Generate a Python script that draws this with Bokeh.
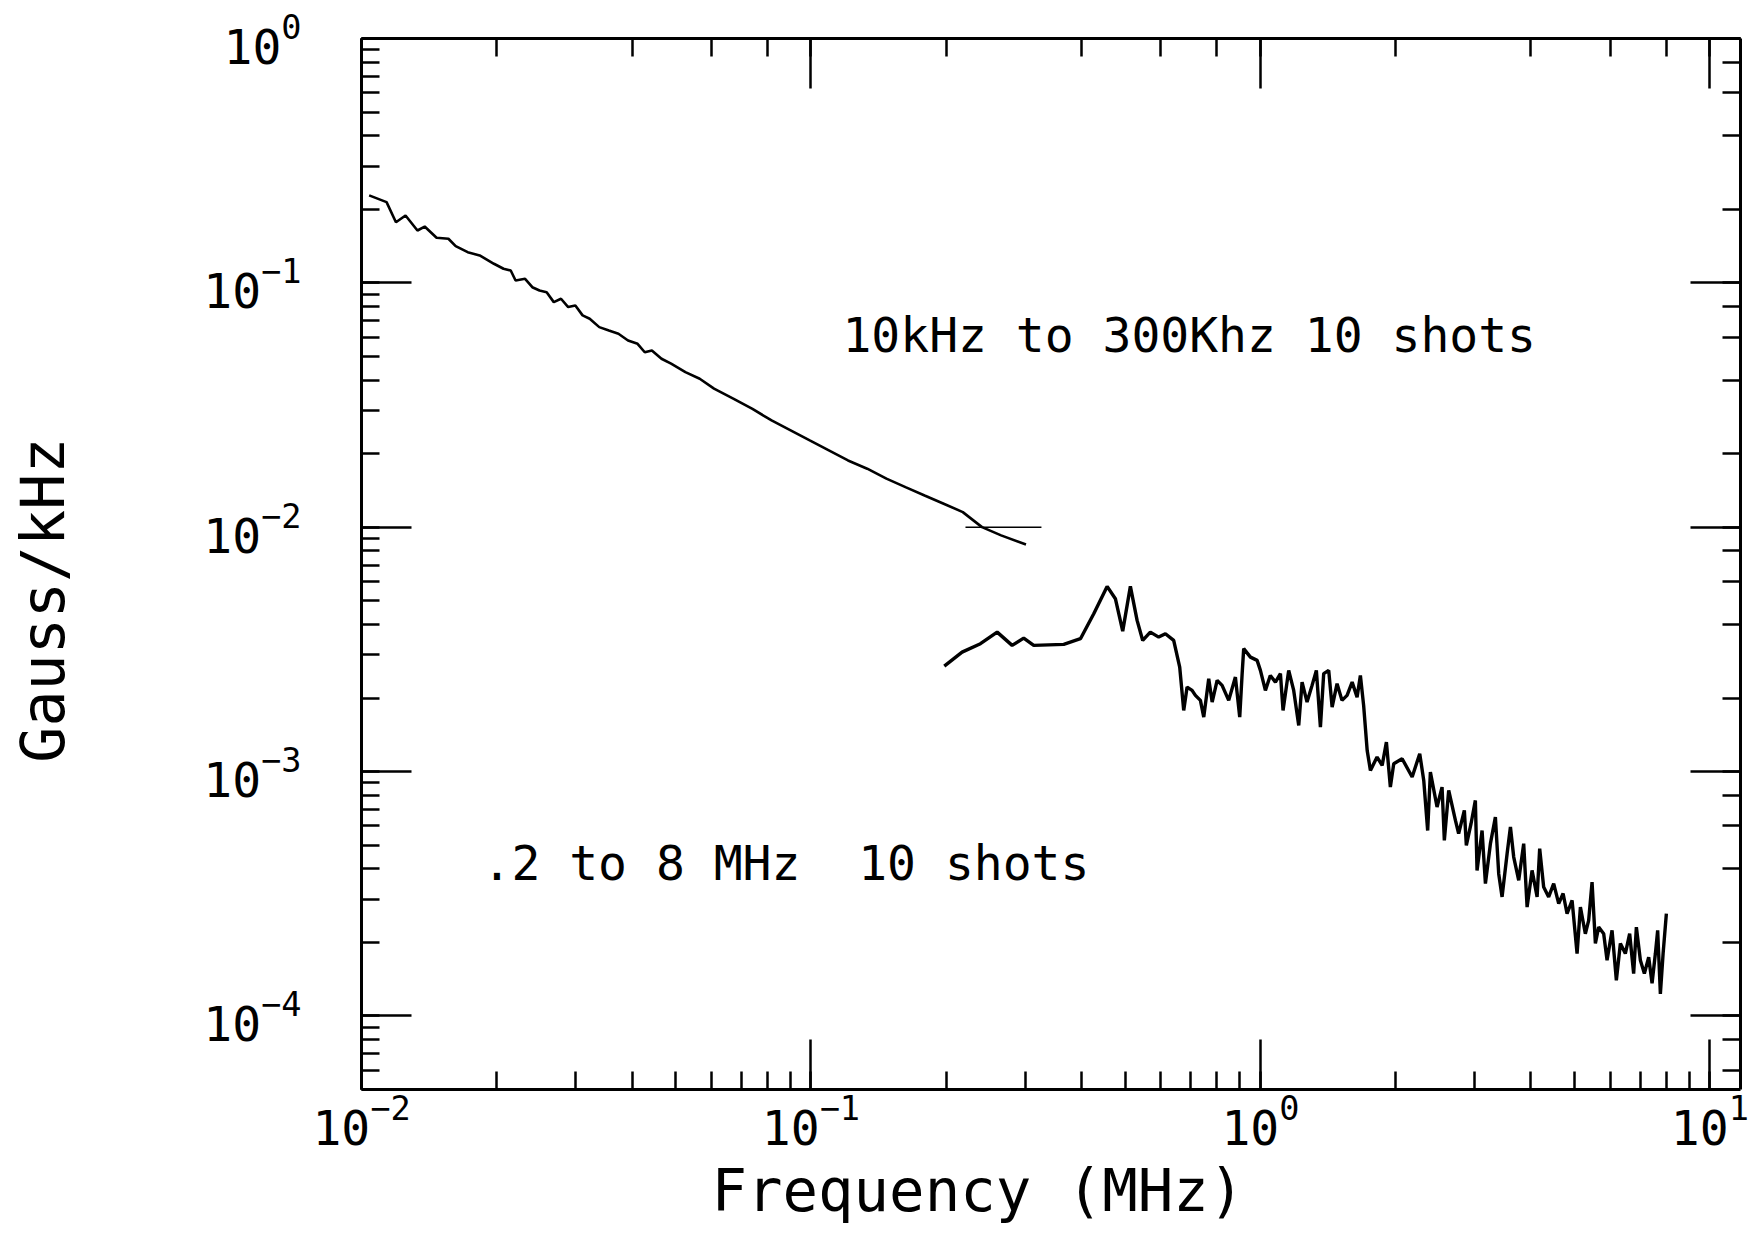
from bokeh.plotting import figure
from bokeh.models import LogAxis, Label, Range1d, CustomJSTickFormatter, LogTickFormatter, Title
from bokeh.embed import file_html
from bokeh.resources import INLINE

# ---- data (MHz, Gauss/kHz) ----
low_freq = [0.0104, 0.01137, 0.01193, 0.01253, 0.01332, 0.01382, 0.01469, 0.01561, 0.0162, 0.01723,
            0.01832, 0.01971, 0.0207, 0.02148, 0.02202, 0.02312, 0.02399, 0.02489, 0.02582, 0.02678,
            0.02779, 0.02883, 0.02991, 0.03104, 0.03219, 0.03381, 0.03551, 0.0373, 0.03917, 0.04114,
            0.04268, 0.04426, 0.0465, 0.04885, 0.05256, 0.05656, 0.06086, 0.06716, 0.0741, 0.08173,
            0.09012, 0.09938, 0.1096, 0.1209, 0.1334, 0.1472, 0.1623, 0.1790, 0.1974, 0.2177,
            0.2402, 0.2649, 0.3009]
low_psd = [0.228, 0.214, 0.177, 0.1887, 0.1638, 0.170, 0.1529, 0.1515, 0.1413, 0.1335,
           0.1295, 0.1197, 0.1142, 0.1123, 0.1023, 0.1039, 0.0960, 0.0931, 0.0916, 0.0834,
           0.0861, 0.0796, 0.0808, 0.0736, 0.0713, 0.0659, 0.0638, 0.0619, 0.0581, 0.0563,
           0.0520, 0.0529, 0.0489, 0.0467, 0.0431, 0.0405, 0.0369, 0.0336, 0.0305, 0.02735,
           0.0249, 0.02265, 0.02062, 0.01876, 0.01736, 0.0158, 0.01459, 0.01349, 0.01248, 0.01153,
           0.01001, 0.00926, 0.0085]

high_freq = [0.198, 0.2169, 0.2383, 0.2596, 0.2803, 0.2974, 0.3131, 0.3651, 0.3978, 0.4258,
             0.456, 0.4757, 0.4939, 0.5137, 0.5317, 0.5472, 0.569, 0.5939, 0.6146, 0.6413,
             0.6614, 0.6751, 0.6869, 0.7047, 0.7168, 0.7354, 0.7481, 0.7674, 0.781, 0.8012,
             0.8218, 0.8501, 0.8798, 0.8995, 0.9107, 0.918, 0.9502, 0.9833, 1.0, 1.026,
             1.052, 1.08, 1.108, 1.123, 1.156, 1.186, 1.217, 1.238, 1.27, 1.303,
             1.332, 1.36, 1.383, 1.419, 1.444, 1.481, 1.519, 1.559, 1.6, 1.641,
             1.669, 1.697, 1.728, 1.757, 1.818, 1.866, 1.907, 1.946, 1.98, 2.067,
             2.176, 2.262, 2.309, 2.356, 2.389, 2.472, 2.536, 2.566, 2.624, 2.716,
             2.761, 2.843, 2.872, 2.942, 3.008, 3.034, 3.113, 3.167, 3.249, 3.333,
             3.39, 3.449, 3.539, 3.6, 3.661, 3.756, 3.853, 3.921, 4.022, 4.127,
             4.182, 4.268, 4.379, 4.493, 4.61, 4.715, 4.812, 4.937, 5.065, 5.152,
             5.284, 5.375, 5.469, 5.563, 5.657, 5.805, 5.906, 6.059, 6.194, 6.323,
             6.486, 6.631, 6.768, 6.863, 7.005, 7.15, 7.31, 7.437, 7.565, 7.654,
             7.761, 7.87, 8.003]
high_psd = [0.002702, 0.003083, 0.003337, 0.003722, 0.003284, 0.003517, 0.003284, 0.003315, 0.003497, 0.004426,
            0.005725, 0.005097, 0.003757, 0.005725, 0.004156, 0.003441, 0.003722, 0.003551, 0.003666, 0.003441,
            0.002677, 0.00178, 0.002217, 0.002149, 0.00205, 0.001956, 0.001671, 0.002399, 0.001925, 0.002361,
            0.002253, 0.001956, 0.002436, 0.001671, 0.002515, 0.003184, 0.00294, 0.002851, 0.002595, 0.002149,
            0.002475, 0.002323, 0.002515, 0.00178, 0.002595, 0.002149, 0.001545, 0.002323, 0.001925, 0.002253,
            0.002595, 0.00152, 0.002515, 0.002595, 0.001836, 0.002289, 0.001956, 0.00205, 0.002323, 0.002017,
            0.002475, 0.001866, 0.001221, 0.001011, 0.001147, 0.00106, 0.00132, 0.000864, 0.001077, 0.001129,
            0.00095, 0.001184, 0.00092, 0.000574, 0.000995, 0.000716, 0.000864, 0.000523, 0.000838, 0.000631,
            0.000557, 0.000694, 0.000499, 0.000612, 0.000762, 0.000394, 0.000574, 0.000348, 0.000507, 0.000651,
            0.000382, 0.000307, 0.000461, 0.000593, 0.000447, 0.000359, 0.000507, 0.000279, 0.000394, 0.000307,
            0.000484, 0.000337, 0.000307, 0.000348, 0.000288, 0.000317, 0.000262, 0.000297, 0.00018, 0.000279,
            0.000217, 0.000246, 0.000353, 0.000198, 0.000231, 0.000217, 0.000169, 0.000224, 0.00014, 0.000198,
            0.00018, 0.000217, 0.000149, 0.000231, 0.000169, 0.000149, 0.000174, 0.000136, 0.00018, 0.000224,
            0.000123, 0.00018, 0.000262]

marker_freq = [0.2207, 0.3257]
marker_psd = [0.01, 0.01]

x_title = "Frequency (MHz)"
y_title = "Gauss/kHz"
note_low = "10kHz to 300Khz 10 shots"
note_high = ".2 to 8 MHz\u00a0 10 shots"

FONT = "DejaVu Sans Mono"
X_START, X_END = 0.01, 11.7
Y_START, Y_END = 5e-5, 1.0

p = figure(width=1756, height=1237, x_axis_type="log", y_axis_type="log",
           x_range=Range1d(X_START, X_END), y_range=Range1d(Y_START, Y_END),
           output_backend="svg", toolbar_location=None,
           min_border_left=361, min_border_right=16, min_border_top=38, min_border_bottom=148)
p.background_fill_color = "white"
p.border_fill_color = "white"
p.outline_line_color = None
p.xgrid.visible = False
p.ygrid.visible = False

p.add_layout(LogAxis(formatter=CustomJSTickFormatter(code="return ''")), "above")
p.add_layout(LogAxis(formatter=CustomJSTickFormatter(code="return ''")), "right")

for ax in p.axis:
    ax.axis_line_color = "black"
    ax.axis_line_width = 3
    ax.major_tick_in = 50
    ax.major_tick_out = 0
    ax.minor_tick_in = 18
    ax.minor_tick_out = 0
    ax.major_tick_line_color = "black"
    ax.minor_tick_line_color = "black"
    ax.major_tick_line_width = 2.5
    ax.minor_tick_line_width = 2.5
    ax.major_label_standoff = 0
    ax.major_label_text_font = FONT
    ax.major_label_text_font_size = "48px"
    ax.major_label_text_color = "black"

left = p.left[0]
bottom = p.below[0]
left.formatter = LogTickFormatter()
bottom.formatter = LogTickFormatter()
left.major_label_standoff = 60
bottom.major_label_standoff = 4

# y title: axis label of the left axis (trailing no-break spaces nudge it down)
left.axis_label = y_title + "\u00a0\u00a0"
left.axis_label_standoff = 122
left.axis_label_text_font = FONT
left.axis_label_text_font_size = "60px"
left.axis_label_text_font_style = "normal"
left.axis_label_text_color = "black"

# x title
p.add_layout(Title(text=x_title, align="left", offset=350, standoff=12,
                   text_font=FONT, text_font_size="59px", text_font_style="normal",
                   text_color="black"), "below")

p.line(low_freq, low_psd, line_color="black", line_width=2.6)
p.line(high_freq, high_psd, line_color="black", line_width=3.4)
p.line(marker_freq, marker_psd, line_color="black", line_width=1.5)

p.add_layout(Label(x=0.1175, y=0.0609, text=note_low, text_align="left",
                   text_baseline="alphabetic", text_font=FONT, text_font_size="48px",
                   text_color="black"))
p.add_layout(Label(x=0.01859, y=4.21e-4, text=note_high, text_align="left",
                   text_baseline="alphabetic", text_font=FONT, text_font_size="48px",
                   text_color="black"))

open("out.html", "w").write(file_html(p, INLINE))
